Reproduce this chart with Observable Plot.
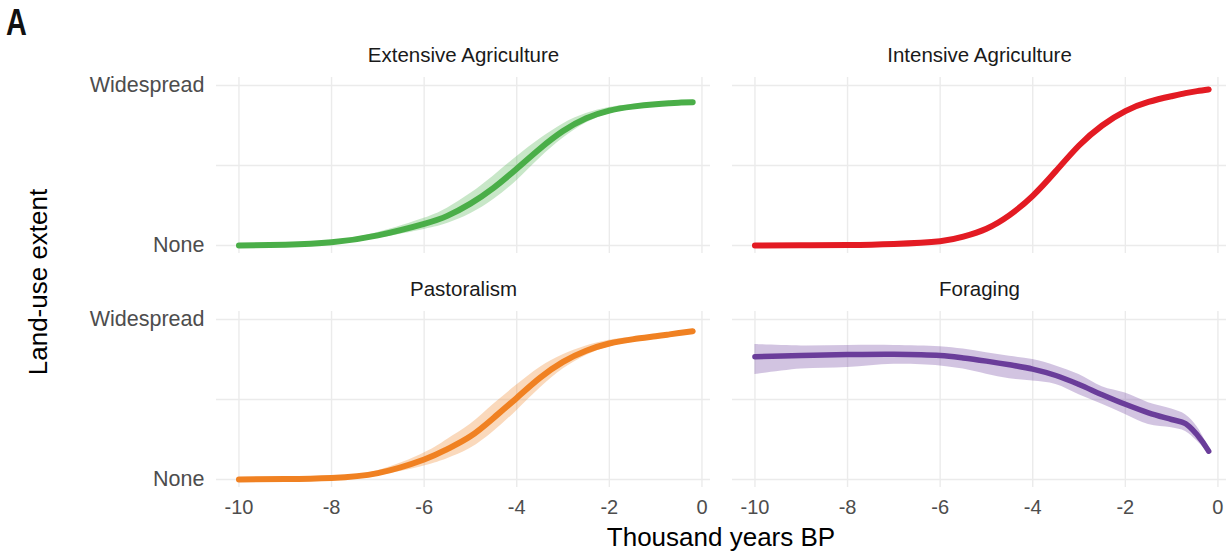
<!DOCTYPE html>
<html>
<head>
<meta charset="utf-8">
<script src="https://cdn.jsdelivr.net/npm/d3@7"></script>
<script src="https://cdn.jsdelivr.net/npm/@observablehq/plot@0.6"></script>
<style>
  html, body { margin: 0; padding: 0; background: #fff; }
  #wrap { position: relative; width: 1231px; height: 552px; font-family: "Liberation Sans", Arial, sans-serif; }
  #wrap svg { position: absolute; left: 0; top: 0; }
  #panelA { position: absolute; left: 6px; top: 4px; font-size: 37px; font-weight: bold; line-height: 1; color: #111; transform: scaleX(0.78); transform-origin: left top; }
  #ytitle { position: absolute; left: -112px; top: 267px; width: 300px; height: 30px; line-height: 30px; text-align: center; font-size: 26px; color: #000; transform: rotate(-90deg); }
  #xtitle { position: absolute; left: 421px; top: 522px; width: 600px; line-height: 30px; text-align: center; font-size: 26px; color: #000; }
</style>
</head>
<body>
<div id="wrap">
  <div id="chart"></div>
  <div id="panelA">A</div>
  <div id="ytitle">Land-use extent</div>
  <div id="xtitle">Thousand years BP</div>
</div>
<script>
// ---- Data ----
const years = [-10, -9, -8, -7, -6, -5.5, -5, -4.5, -4, -3.5, -3, -2.5, -2, -1.5, -1, -0.7, -0.45, -0.2];

const panelNames = ["Extensive Agriculture", "Intensive Agriculture", "Pastoralism", "Foraging"];
const panelColors = ["#4aae48", "#e31b23", "#f08122", "#6a3d9a"];
const panelCurves = ["natural", "natural", "natural", "catmull-rom"];

const extensiveMean = [0, 0.005, 0.02, 0.063, 0.135, 0.185, 0.262, 0.36, 0.48, 0.605, 0.715, 0.795, 0.843, 0.868, 0.883, 0.889, 0.893, 0.896];
const extensiveLow  = [0, 0.001, 0.013, 0.045, 0.1, 0.137, 0.198, 0.287, 0.405, 0.545, 0.67, 0.765, 0.823, 0.855, 0.875, 0.882, 0.887, 0.89];
const extensiveHigh = [0.003, 0.009, 0.027, 0.081, 0.17, 0.233, 0.325, 0.435, 0.555, 0.665, 0.76, 0.825, 0.863, 0.881, 0.891, 0.896, 0.899, 0.902];

const intensiveMean = [0, 0.001, 0.003, 0.01, 0.027, 0.055, 0.105, 0.19, 0.31, 0.465, 0.625, 0.75, 0.84, 0.897, 0.933, 0.952, 0.965, 0.975];
const intensiveLow  = [0, 0, 0.001, 0.007, 0.023, 0.05, 0.1, 0.185, 0.305, 0.46, 0.62, 0.745, 0.835, 0.893, 0.929, 0.948, 0.961, 0.971];
const intensiveHigh = [0.002, 0.003, 0.005, 0.013, 0.031, 0.06, 0.11, 0.195, 0.315, 0.47, 0.63, 0.755, 0.845, 0.901, 0.937, 0.956, 0.969, 0.979];

const pastoralMean = [0, 0.003, 0.01, 0.04, 0.125, 0.19, 0.27, 0.385, 0.51, 0.635, 0.735, 0.805, 0.85, 0.876, 0.895, 0.907, 0.917, 0.927];
const pastoralLow  = [0, 0, 0.004, 0.025, 0.085, 0.13, 0.195, 0.3, 0.43, 0.57, 0.69, 0.775, 0.83, 0.861, 0.885, 0.899, 0.91, 0.92];
const pastoralHigh = [0.002, 0.006, 0.016, 0.055, 0.165, 0.25, 0.345, 0.47, 0.59, 0.7, 0.78, 0.835, 0.87, 0.891, 0.905, 0.915, 0.924, 0.934];

const foragingMean = [0.767, 0.775, 0.781, 0.783, 0.775, 0.76, 0.74, 0.717, 0.69, 0.65, 0.594, 0.53, 0.47, 0.417, 0.375, 0.35, 0.28, 0.177];
const foragingLow  = [0.656, 0.69, 0.70, 0.72, 0.71, 0.69, 0.658, 0.63, 0.615, 0.594, 0.53, 0.47, 0.406, 0.344, 0.323, 0.3, 0.24, 0.16];
const foragingHigh = [0.844, 0.835, 0.838, 0.838, 0.83, 0.815, 0.792, 0.77, 0.75, 0.71, 0.656, 0.58, 0.54, 0.48, 0.44, 0.405, 0.33, 0.2];

const xTicks = [-10, -8, -6, -4, -2, 0];
const yTicks = [0, 1];
const yTickLabels = ["None", "Widespread"];
const yGrid = [0, 0.5, 1];

// ---- Build table ----
const seriesMean = [extensiveMean, intensiveMean, pastoralMean, foragingMean];
const seriesLow = [extensiveLow, intensiveLow, pastoralLow, foragingLow];
const seriesHigh = [extensiveHigh, intensiveHigh, pastoralHigh, foragingHigh];

const panels = panelNames.map((name, i) => ({name, col: i % 2, row: Math.floor(i / 2), color: panelColors[i]}));
const rows = panels.map((p, i) => years.map((yr, j) => ({
  panel: p.name, col: p.col, row: p.row, year: yr,
  mean: seriesMean[i][j], lo: seriesLow[i][j], hi: seriesHigh[i][j]
})));

const marks = [
  Plot.gridX({ticks: xTicks, stroke: "#ebebeb", strokeOpacity: 1, strokeWidth: 1.4}),
  Plot.gridY({ticks: yGrid, stroke: "#ebebeb", strokeOpacity: 1, strokeWidth: 1.4}),
];
panels.forEach((p, i) => {
  marks.push(Plot.areaY(rows[i], {x: "year", y1: "lo", y2: "hi", fx: "col", fy: "row", fill: p.color, fillOpacity: 0.3, curve: panelCurves[i]}));
});
panels.forEach((p, i) => {
  marks.push(Plot.lineY(rows[i], {x: "year", y: "mean", fx: "col", fy: "row", stroke: p.color, strokeWidth: i === 3 ? 5.5 : 6, curve: panelCurves[i]}));
});
marks.push(Plot.text(panels, {fx: "col", fy: "row", text: "name", frameAnchor: "top", dy: -22, fontSize: 20.5, fill: "#1a1a1a", lineAnchor: "middle"}));
marks.push(Plot.axisX({ticks: xTicks, tickSize: 0, tickPadding: 12, fontSize: 20, fill: "#4d4d4d", label: null, tickFormat: d => String(d)}));
marks.push(Plot.axisY({ticks: yTicks, tickSize: 0, tickPadding: 12, fontSize: 21.5, fill: "#4d4d4d", label: null, tickFormat: d => yTickLabels[yTicks.indexOf(d)]}));

const chart = Plot.plot({
  width: 1231,
  height: 552,
  marginLeft: 216,
  marginRight: 5,
  marginTop: 77,
  marginBottom: 65,
  style: {fontFamily: "'Liberation Sans', Arial, sans-serif", background: "white", overflow: "visible"},
  fx: {domain: [0, 1], paddingInner: 0.0426, paddingOuter: 0, round: false, axis: null},
  fy: {domain: [0, 1], paddingInner: 0.248, paddingOuter: 0, round: false, axis: null},
  x: {domain: [-10.485, 0.185]},
  y: {domain: [-0.05, 1.05]},
  marks
});
document.getElementById("chart").appendChild(chart);
</script>
</body>
</html>
